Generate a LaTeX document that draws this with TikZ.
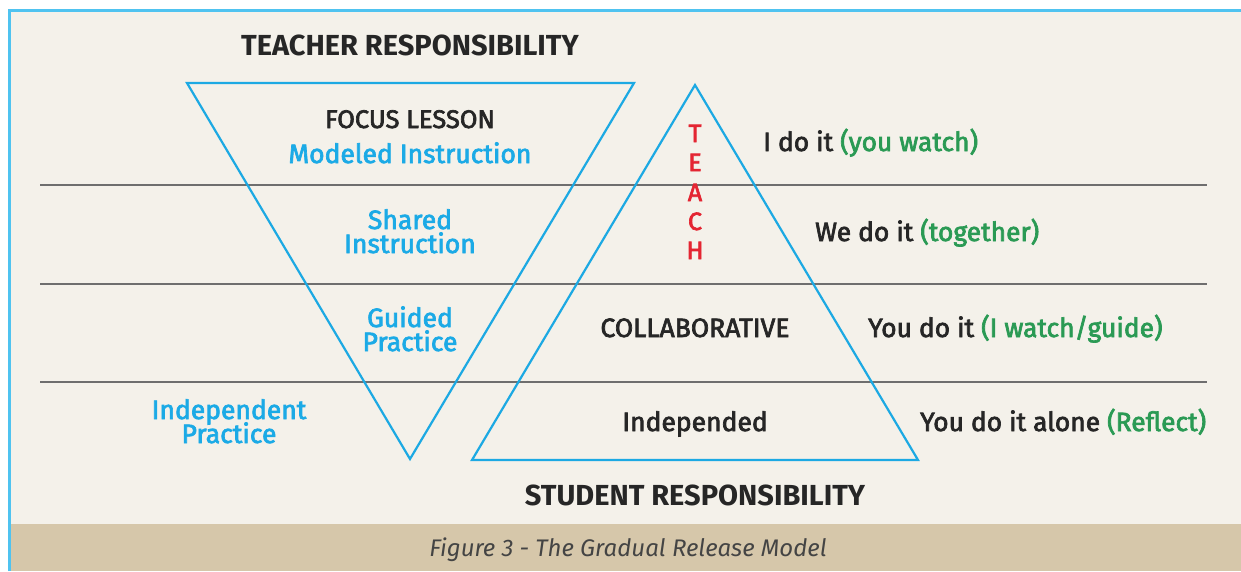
\documentclass[tikz,border=0pt]{standalone}
\usepackage{fontspec}
\setmainfont{Fira Sans}
\newfontfamily\medfont[FakeBold=2.6]{Fira Sans}
\definecolor{bgbeige}{HTML}{F4F1EA}
\definecolor{captan}{HTML}{D6C7AA}
\definecolor{frameblue}{HTML}{4FC3F0}
\definecolor{triblue}{HTML}{1CA9E3}
\definecolor{linegray}{HTML}{6E6E6E}
\definecolor{darktext}{HTML}{262626}
\definecolor{textblue}{HTML}{1BAAE6}
\definecolor{gtext}{HTML}{2A9A54}
\definecolor{rtext}{HTML}{E42532}
\definecolor{captext}{HTML}{444444}
\begin{document}
\begin{tikzpicture}[x=1pt,y=-1pt,
  hline/.style={draw=linegray,line width=1.6pt},
  tri/.style={draw=triblue,line width=2.2pt,line join=miter},
  lbl/.style={inner sep=0pt,anchor=base},
  headtxt/.style={lbl,text=darktext,font=\bfseries\fontsize{29}{29}\selectfont},
  stagetxt/.style={lbl,text=darktext,font=\medfont\fontsize{26.5}{26.5}\selectfont},
  bluetxt/.style={lbl,text=textblue,font=\medfont\fontsize{26.5}{26.5}\selectfont},
  teachtxt/.style={lbl,text=rtext,font=\medfont\fontsize{25}{25}\selectfont},
  righttxt/.style={inner sep=0pt,anchor=base west,text=darktext,font=\medfont\fontsize{26.4}{26.4}\selectfont},
  captxt/.style={lbl,text=captext,font=\itshape\fontsize{24}{24}\selectfont}]
\useasboundingbox (0,0) rectangle (1241,571);
\fill[white] (0,0) rectangle (1241,571);
\fill[bgbeige] (9,10) rectangle (1241,571);
\fill[captan] (11,524) rectangle (1241,571);
\draw[frameblue,line width=3pt] (9.5,571) -- (9.5,10.5) -- (1241,10.5);
% horizontal rules
\coordinate (l1a) at (40,185); \coordinate (l1b) at (1207,185);
\coordinate (l2a) at (40,284); \coordinate (l2b) at (1207,284);
\coordinate (l3a) at (40,382); \coordinate (l3b) at (1207,382);
\draw[hline] (l1a) -- (l1b);
\draw[hline] (l2a) -- (l2b);
\draw[hline] (l3a) -- (l3b);
% triangles
\coordinate (itl) at (187,83); \coordinate (itr) at (634,83); \coordinate (ibt) at (410,459);
\coordinate (uap) at (695,85); \coordinate (ubl) at (472,460); \coordinate (ubr) at (918,460);
\draw[tri] (itl) -- (itr) -- (ibt) -- cycle;
\draw[tri] (uap) -- (ubr) -- (ubl) -- cycle;
% headings
\node[headtxt] (teacher) at (410,55) {TEACHER RESPONSIBILITY};
\node[headtxt] (student) at (695,505) {STUDENT RESPONSIBILITY};
% left triangle texts
\node[stagetxt,font=\medfont\fontsize{25.5}{25.5}\selectfont] (focus) at (410,128) {FOCUS LESSON};
\node[bluetxt] (modeled) at (410,163) {Modeled Instruction};
\node[bluetxt] (shared1) at (410,229) {Shared};
\node[bluetxt] (shared2) at (410,253) {Instruction};
\node[bluetxt] (guided1) at (410,327) {Guided};
\node[bluetxt] (guided2) at (410,351) {Practice};
\node[bluetxt] (indep1) at (229,419) {Independent};
\node[bluetxt] (indep2) at (229,443) {Practice};
% TEACH
\node[teachtxt] (tT) at (695,142) {T};
\node[teachtxt] (tE) at (695,171) {E};
\node[teachtxt] (tA) at (695,201) {A};
\node[teachtxt] (tC) at (695,230) {C};
\node[teachtxt] (tH) at (695,259) {H};
% right triangle texts
\node[stagetxt] (collab) at (695,337) {COLLABORATIVE};
\node[stagetxt] (indepd) at (695,431) {Independed};
% right column
\node[righttxt] (r1) at (763,151) {I do it \textcolor{gtext}{(you watch)}};
\node[righttxt] (r2) at (815,241) {We do it \textcolor{gtext}{(together)}};
\node[righttxt] (r3) at (868,337) {You do it \textcolor{gtext}{(I watch/guide)}};
\node[righttxt] (r4) at (920,431) {You do it alone \textcolor{gtext}{(Reflect)}};
% caption
\node[captxt] (caption) at (628,556) {Figure 3 - The Gradual Release Model};
\end{tikzpicture}
\end{document}
